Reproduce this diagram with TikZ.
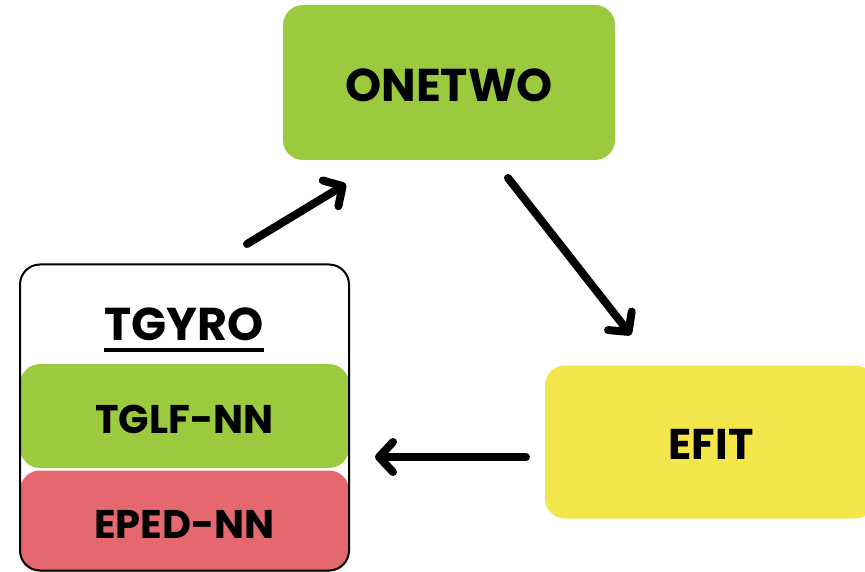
\documentclass[tikz,border=0pt]{standalone}
\usepackage{fontspec}
\setmainfont{Poppins}
\usetikzlibrary{arrows.meta}
\definecolor{ogreen}{RGB}{155,202,63}
\definecolor{oyellow}{RGB}{243,230,75}
\definecolor{ored}{RGB}{228,104,110}
\begin{document}
\begin{tikzpicture}[x=1pt,y=-1pt,
  box/.style={rectangle,rounded corners=20pt,draw=none,inner sep=0pt,anchor=center},
  lbl/.style={font=\fontsize{46}{50}\selectfont\bfseries,inner sep=0pt,anchor=center},
  sublbl/.style={font=\fontsize{40}{44}\selectfont\bfseries,inner sep=0pt,anchor=center},
  flow/.style={line width=8pt,line cap=round,-{Straight Barb[round,length=14pt,width=30pt]}}]
\useasboundingbox (0,0) rectangle (865,572);
\node[box,fill=ogreen,minimum width=332pt,minimum height=155pt] (onetwo) at (449,82.5) {};
\node[lbl] (onetwoT) at (449,85) {ONETWO};
\node[box,fill=oyellow,minimum width=330pt,minimum height=153pt] (efit) at (710,442) {};
\node[sublbl,font=\fontsize{43}{46}\selectfont\bfseries] (efitT) at (711,444) {EFIT};
\node[box,fill=ogreen,minimum width=329pt,minimum height=104pt] (tglf) at (184.5,416) {};
\node[sublbl] (tglfT) at (184.5,419) {TGLF-NN};
\node[box,fill=ored,minimum width=329pt,minimum height=101pt] (eped) at (184.5,521) {};
\node[sublbl] (epedT) at (184.5,524) {EPED-NN};
\node[box,draw=black,line width=2pt,minimum width=329pt,minimum height=306pt] (tgyro) at (184.5,417.5) {};
\node[lbl] (tgyroT) at (184,324) {TGYRO};
\draw[line width=4pt] (tgyroT.south west) ++(0,9) coordinate (ul1) -- (tgyroT.south east |- ul1) coordinate (ul2);
\coordinate (a1s) at (247,244);
\coordinate (a1e) at (346,184);
\coordinate (a2s) at (508,178);
\coordinate (a2e) at (631,335);
\coordinate (a3s) at (526,457);
\coordinate (a3e) at (375,457);
\draw[flow] (a1s) -- (a1e);
\draw[flow] (a2s) -- (a2e);
\draw[flow] (a3s) -- (a3e);
\end{tikzpicture}
\end{document}
